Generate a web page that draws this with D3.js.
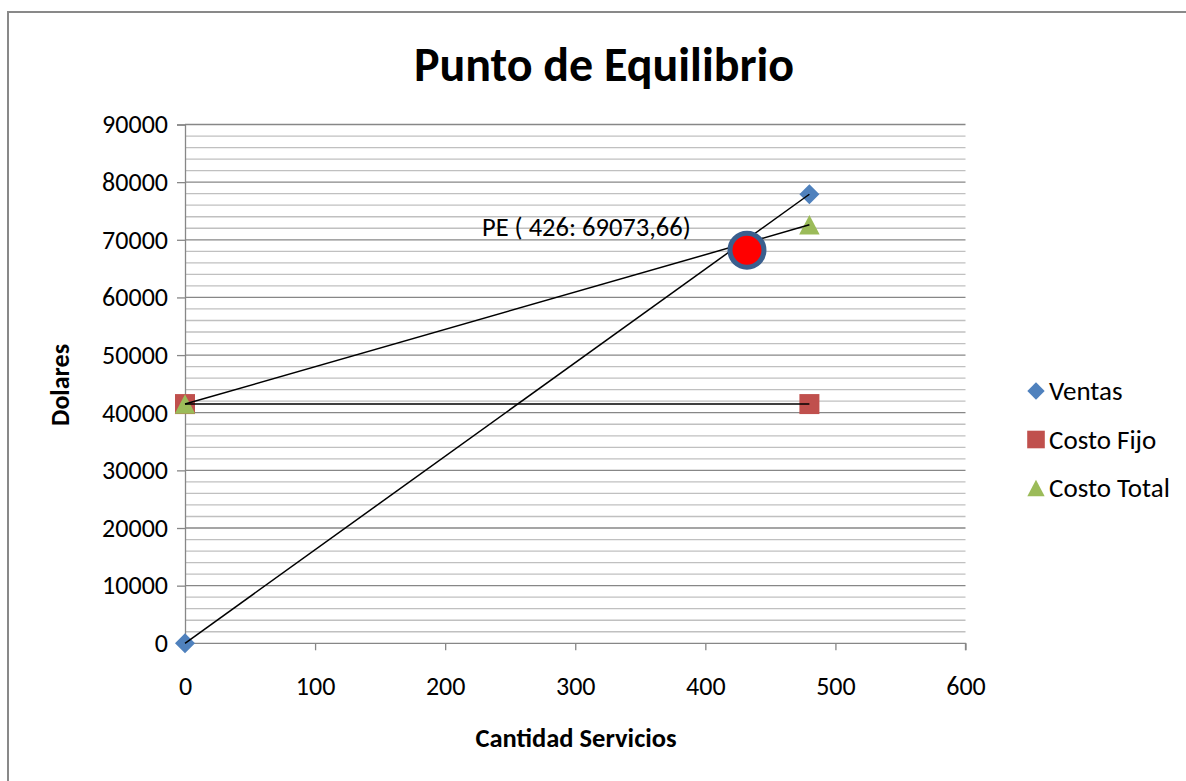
<!DOCTYPE html>
<html>
<head>
<meta charset="utf-8">
<script src="https://cdn.jsdelivr.net/npm/d3@7"></script>
<style>
  html, body { margin: 0; padding: 0; background: #fff; overflow: hidden; }
  svg { display: block; font-family: Carlito, Calibri, Lato, sans-serif; }
</style>
</head>
<body>
<svg id="chart" width="1186" height="781"></svg>
<script>
// data
const cantidad = [0, 480];
const ventas = [0, 77900];
const costoFijo = [41500, 41500];
const costoTotal = [41500, 72600];
const puntoEq = { x: 432, y: 68200, label: "PE ( 426: 69073,66)" };
const xTicks = [0, 100, 200, 300, 400, 500, 600];
const yTicks = [0, 10000, 20000, 30000, 40000, 50000, 60000, 70000, 80000, 90000];

const seriesNames = ["Ventas", "Costo Fijo", "Costo Total"];
const seriesColors = ["#4F81BD", "#C0504D", "#9BBB59"];

const svg = d3.select("#chart");

// outer chart border: only its top and left edges fall inside the window
svg.append("line").attr("x1", 8).attr("x2", 8).attr("y1", 11).attr("y2", 800)
  .attr("stroke", "#898989").attr("stroke-width", 2);
svg.append("line").attr("x1", 7).attr("x2", 1300).attr("y1", 12).attr("y2", 12)
  .attr("stroke", "#898989").attr("stroke-width", 2);

const plotL = 185, plotR = 965.5, plotT = 124.5, plotB = 643.3;
const x = d3.scaleLinear().domain([0, 600]).range([plotL, plotR]);
const y = d3.scaleLinear().domain([0, 90000]).range([plotB, plotT]);

// minor gridlines every 2000
const minor = d3.range(0, 90001, 2000).filter(v => v % 10000 !== 0);
svg.append("g").selectAll("line").data(minor).join("line")
  .attr("x1", plotL).attr("x2", plotR)
  .attr("y1", d => y(d)).attr("y2", d => y(d))
  .attr("stroke", "#c0c0c0").attr("stroke-width", 1.3);

// major gridlines
svg.append("g").selectAll("line").data(yTicks.slice(1)).join("line")
  .attr("x1", plotL).attr("x2", plotR)
  .attr("y1", d => y(d)).attr("y2", d => y(d))
  .attr("stroke", "#878787").attr("stroke-width", 1.3);

// axes
const yAxis = svg.append("g").attr("transform", `translate(${plotL},0)`)
  .call(d3.axisLeft(y).tickValues(yTicks).tickSize(8).tickPadding(9).tickFormat(d3.format("d")));
const xAxis = svg.append("g").attr("transform", `translate(0,${plotB})`)
  .call(d3.axisBottom(x).tickValues(xTicks).tickSize(7).tickPadding(26).tickFormat(d3.format("d")));
[yAxis, xAxis].forEach(a => {
  a.select(".domain").attr("stroke", "#878787").attr("stroke-width", 1.3);
  a.selectAll(".tick line").attr("stroke", "#878787").attr("stroke-width", 1.3);
  a.selectAll(".tick text").attr("fill", "#000").style("font-size", "26px")
    .style("font-family", "Carlito, Calibri, Lato, sans-serif");
});
xAxis.select(".domain").attr("d", `M${plotL},7V0H${plotR}V7`);

// marker shapes: diamond = rotated square
function marker(sel, i, size) {
  if (i === 2) {
    const s = Math.sqrt(size), h = s * 0.95;
    sel.attr("d", `M0,${-h / 2}L${s / 2},${h / 2}L${-s / 2},${h / 2}Z`);
  } else {
    sel.attr("d", d3.symbol().type(d3.symbolSquare).size(size)());
  }
  sel.attr("fill", seriesColors[i]);
}

const allSeries = [ventas, costoFijo, costoTotal];
const line = d3.line().x(d => x(d[0])).y(d => y(d[1]));
const symSizes = [200, 400, 420];

// draw Costo Fijo first so the triangle sits over the square at x = 0
[1, 2, 0].forEach(s => {
  const pts = cantidad.map((c, i) => [c, allSeries[s][i]]);
  svg.append("g").selectAll("path").data(pts).join("path")
    .each(function () { marker(d3.select(this), s, symSizes[s]); })
    .attr("transform", d => `translate(${x(d[0])},${y(d[1])})` + (s === 0 ? " rotate(45)" : ""));
});
// lines sit over markers in the reference
allSeries.forEach(vals => {
  const pts = cantidad.map((c, i) => [c, vals[i]]);
  svg.append("path").datum(pts)
    .attr("d", line).attr("fill", "none")
    .attr("stroke", "#000").attr("stroke-width", 1.5);
});

// break-even point
svg.append("circle")
  .attr("cx", x(puntoEq.x)).attr("cy", y(puntoEq.y)).attr("r", 17)
  .attr("fill", "#FF0000").attr("stroke", "#3A5F8E").attr("stroke-width", 5);
svg.append("text")
  .attr("x", 482).attr("y", y(puntoEq.y) - 14)
  .style("font-size", "26.5px").text(puntoEq.label);

// title and axis titles
svg.append("text")
  .attr("x", 604).attr("y", 81).attr("text-anchor", "middle")
  .style("font-size", "48px").style("font-weight", "bold").text("Punto de Equilibrio");
svg.append("text")
  .attr("transform", "translate(69,385) rotate(-90)").attr("text-anchor", "middle")
  .style("font-size", "26px").style("font-weight", "bold").text("Dolares");
svg.append("text")
  .attr("x", 576).attr("y", 747).attr("text-anchor", "middle")
  .style("font-size", "26.5px").style("font-weight", "bold").text("Cantidad Servicios");

// legend
const legend = svg.append("g");
seriesNames.forEach((name, i) => {
  const ly = 391 + i * 48.5;
  legend.append("path")
    .each(function () { marker(d3.select(this), i, [150, 310, 300][i]); })
    .attr("transform", `translate(1036,${ly})` + (i === 0 ? " rotate(45)" : ""));
  legend.append("text")
    .attr("x", 1049).attr("y", ly + 9)
    .style("font-size", "27px").text(name);
});
</script>
</body>
</html>
